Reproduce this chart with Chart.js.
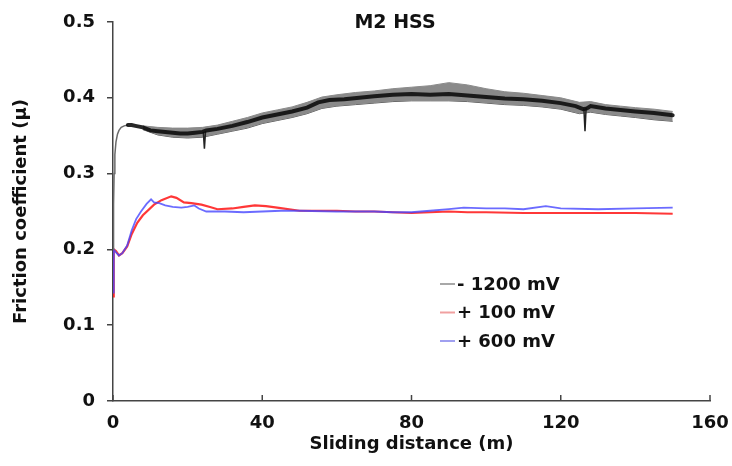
<!DOCTYPE html>
<html>
<head>
<meta charset="utf-8">
<script src="https://cdn.jsdelivr.net/npm/chart.js@4/dist/chart.umd.min.js"></script>
<style>
  html, body { margin: 0; padding: 0; background: #fff; }
  #wrap { width: 732px; height: 466px; }
</style>
</head>
<body>
<div id="wrap"><canvas id="chart"></canvas></div>
<script>
// M2 HSS friction curves
const chartTitle = 'M2 HSS';
const xTitle = 'Sliding distance (m)';
const yTitle = 'Friction coefficient (\u03bc)';

// -1200 mV: steep run-in at the start (thin grey)
const riseX = [0, 0.15, 0.3, 0.5, 0.8, 1.2, 1.6, 2.2, 3, 4];
const riseY = [0.20, 0.26, 0.30, 0.325, 0.342, 0.352, 0.357, 0.361, 0.363, 0.364];

// -1200 mV: centre of the noisy trace
const blackX = [4, 5, 6, 8, 10, 12, 14, 16, 18, 20, 22, 24, 25, 28, 32, 36, 40, 44, 48, 52, 55, 58, 62, 66, 70, 75, 80, 85, 90, 95, 100, 105, 110, 115, 120, 124, 126, 127, 128, 132, 136, 140, 145, 150];
const blackY = [0.364, 0.364, 0.363, 0.361, 0.357, 0.356, 0.355, 0.354, 0.353, 0.353, 0.354, 0.355, 0.357, 0.359, 0.363, 0.368, 0.374, 0.378, 0.382, 0.387, 0.394, 0.397, 0.398, 0.400, 0.402, 0.404, 0.405, 0.404, 0.405, 0.403, 0.401, 0.399, 0.398, 0.396, 0.393, 0.389, 0.385, 0.386, 0.389, 0.386, 0.384, 0.382, 0.380, 0.377];

// -1200 mV: the two sharp dips (null splits them)
const dipX = [24.2, 24.5, 24.8, 60, 126.2, 126.5, 126.8];
const dipY = [0.355, 0.333, 0.356, null, 0.386, 0.356, 0.387];

// -1200 mV: grey noise band around it
const bandX = [8, 12, 16, 20, 24, 28, 32, 36, 40, 44, 48, 52, 56, 60, 65, 70, 75, 80, 85, 90, 95, 100, 105, 110, 115, 120, 125, 128, 132, 136, 140, 145, 150];
const bandHi = [0.363, 0.361, 0.360, 0.360, 0.361, 0.364, 0.369, 0.374, 0.380, 0.384, 0.388, 0.394, 0.401, 0.404, 0.407, 0.409, 0.412, 0.414, 0.416, 0.420, 0.417, 0.412, 0.408, 0.406, 0.403, 0.400, 0.394, 0.395, 0.391, 0.389, 0.387, 0.385, 0.382];
const bandLo = [0.358, 0.351, 0.348, 0.347, 0.348, 0.352, 0.356, 0.360, 0.366, 0.370, 0.374, 0.379, 0.386, 0.389, 0.391, 0.393, 0.395, 0.396, 0.396, 0.396, 0.395, 0.393, 0.391, 0.390, 0.388, 0.385, 0.379, 0.381, 0.378, 0.376, 0.374, 0.371, 0.369];

// +100 mV
const redX = [0, 0.2, 0.8, 1.6, 2.5, 3.8, 5, 6.5, 8, 11, 13, 15.6, 17, 19, 21, 23.7, 26, 28, 32, 35, 38, 41, 44, 50, 55, 60, 65, 70, 75, 80, 85, 90, 95, 100, 110, 120, 130, 140, 150];
const redY = [0.138, 0.200, 0.198, 0.192, 0.195, 0.204, 0.220, 0.235, 0.245, 0.259, 0.265, 0.270, 0.268, 0.262, 0.261, 0.259, 0.256, 0.253, 0.254, 0.256, 0.258, 0.257, 0.255, 0.251, 0.251, 0.251, 0.250, 0.250, 0.249, 0.248, 0.249, 0.250, 0.249, 0.249, 0.248, 0.248, 0.248, 0.248, 0.247];

// +600 mV
const blueX = [0, 0.2, 0.8, 1.6, 2.5, 3.8, 5, 6.2, 7.5, 9, 10.2, 11, 12.4, 14, 16, 18.3, 20, 21.8, 23, 25, 30, 35, 40, 45, 50, 60, 70, 75, 80, 85, 90, 94, 100, 105, 110, 116, 120, 130, 140, 150];
const blueY = [0.143, 0.200, 0.196, 0.192, 0.195, 0.205, 0.225, 0.240, 0.250, 0.260, 0.266, 0.262, 0.261, 0.258, 0.256, 0.255, 0.256, 0.258, 0.254, 0.250, 0.250, 0.249, 0.250, 0.251, 0.251, 0.250, 0.250, 0.249, 0.249, 0.251, 0.253, 0.255, 0.254, 0.254, 0.253, 0.257, 0.254, 0.253, 0.254, 0.255];

const legendLabels = ['- 1200 mV', '+ 100 mV', '+ 600 mV'];
const legendColors = ['#a8a8a8', '#f0a0a0', '#a0a0f0'];

const pts = (xs, ys) => xs.map((x, i) => ({ x, y: ys[i] }));

const FONT = '"DejaVu Sans", sans-serif';
const axisColor = '#444';

const extras = {
  id: 'extras',
  afterDraw(chart) {
    const { ctx, chartArea } = chart;
    const x = chart.scales.x;
    ctx.save();
    // x ticks point up into the plot
    ctx.strokeStyle = axisColor;
    ctx.lineWidth = 1.5;
    x.ticks.forEach(t => {
      const px = x.getPixelForValue(t.value);
      ctx.beginPath();
      ctx.moveTo(px, chartArea.bottom);
      ctx.lineTo(px, chartArea.bottom - 6);
      ctx.stroke();
    });
    // title sits inside the plot
    ctx.fillStyle = '#111';
    ctx.font = 'bold 19px ' + FONT;
    ctx.textAlign = 'center';
    ctx.textBaseline = 'middle';
    ctx.fillText(chartTitle, chartArea.left + 282, 23);
    // legend, middle right of the plot
    ctx.font = 'bold 18px ' + FONT;
    ctx.textAlign = 'left';
    legendLabels.forEach((lab, i) => {
      const y = chartArea.top + 262 + i * 28.5;
      ctx.strokeStyle = legendColors[i];
      ctx.lineWidth = 2;
      ctx.beginPath();
      ctx.moveTo(chartArea.left + 327, y);
      ctx.lineTo(chartArea.left + 342, y);
      ctx.stroke();
      ctx.fillText(lab, chartArea.left + 344, y + 1);
    });
    ctx.restore();
  }
};

new Chart(document.getElementById('chart'), {
  type: 'line',
  data: {
    datasets: [
      {
        label: legendLabels[0],
        data: pts(blackX, blackY),
        borderColor: 'rgba(10,10,10,0.88)',
        borderWidth: 4,
        borderCapStyle: 'round',
      },
      {
        label: 'dips',
        data: pts(dipX, dipY),
        borderColor: '#222',
        borderWidth: 1.5,
        spanGaps: false,
      },
      {
        label: 'run-in',
        data: pts(riseX, riseY),
        borderColor: '#6a6a6a',
        borderWidth: 1.5,
      },
      {
        label: legendLabels[2],
        data: pts(blueX, blueY),
        borderColor: 'rgba(70,70,255,0.8)',
        borderWidth: 1.8,
      },
      {
        label: legendLabels[1],
        data: pts(redX, redY),
        borderColor: 'rgba(255,20,20,0.85)',
        borderWidth: 2.2,
      },
      {
        label: 'band hi',
        data: pts(bandX, bandHi),
        borderColor: '#8a8a8a',
        borderWidth: 1,
        backgroundColor: '#8a8a8a',
        fill: '+1',
      },
      {
        label: 'band lo',
        data: pts(bandX, bandLo),
        borderColor: '#555',
        borderWidth: 1,
      },
    ]
  },
  options: {
    responsive: true,
    maintainAspectRatio: false,
    animation: false,
    elements: { point: { radius: 0 }, line: { tension: 0 } },
    layout: { padding: { top: 22, right: 22, left: 0, bottom: 0 } },
    plugins: {
      legend: { display: false },
      tooltip: { enabled: false },
    },
    scales: {
      x: {
        type: 'linear',
        min: 0,
        max: 160,
        ticks: { stepSize: 40, color: '#111', font: { family: FONT, size: 18, weight: 'bold' }, padding: 12, maxRotation: 0 },
        grid: { drawOnChartArea: false, drawTicks: false },
        border: { color: axisColor, width: 1.5 },
        title: { display: true, text: xTitle, color: '#111', font: { family: FONT, size: 18, weight: 'bold' }, padding: { top: 0, bottom: 11 } },
        afterFit(s) { s.height = 65; s.paddingLeft = 0; s.paddingRight = 0; },
      },
      y: {
        min: 0,
        max: 0.5,
        ticks: { stepSize: 0.1, color: '#111', font: { family: FONT, size: 18, weight: 'bold' }, padding: 12, callback: v => +v.toFixed(1) },
        grid: { drawOnChartArea: false, tickLength: 6, color: axisColor, lineWidth: 1.5 },
        border: { color: axisColor, width: 1.5 },
        title: { display: true, text: yTitle, color: '#111', font: { family: FONT, size: 18, weight: 'bold' }, padding: { top: 11, bottom: 0 } },
        afterFit(s) { s.width = 113; s.paddingTop = 0; s.paddingBottom = 0; },
      }
    }
  },
  plugins: [extras]
});
</script>
</body>
</html>
